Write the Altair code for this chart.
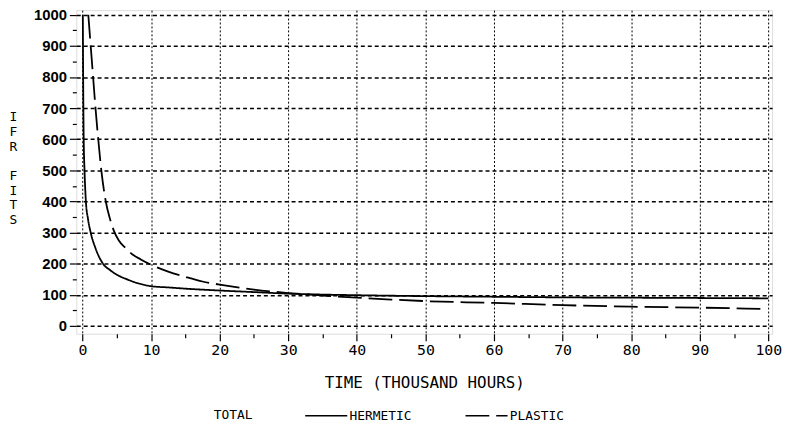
import altair as alt
import pandas as pd

# Hermetic (solid) curve
herm_x = [0.05, 0.1, 0.18, 0.3, 0.5, 0.8, 1.2, 1.9, 3.0, 4.0, 5.0, 6.5, 8.0, 10.0,
          12.5, 15.0, 20.0, 25.0, 30.0, 35.0, 40.0, 50.0, 60.0, 70.0, 80.0, 90.0, 100.0]
herm_y = [1000, 800, 600, 500, 400, 345, 300, 250, 200, 180, 165, 150, 138, 128,
          124, 120, 114, 109, 104, 101, 99, 96, 94, 92, 91, 90, 89]

# Plastic (dashed) curve
plas_x = [0.85, 1.2, 1.55, 1.9, 2.3, 2.75, 3.4, 4.0, 4.6, 5.3, 6.3, 7.3, 8.5, 10.0,
          12.5, 15.0, 17.5, 20.0, 25.0, 30.0, 35.0, 40.0, 45.0, 50.0, 60.0, 70.0,
          80.0, 90.0, 99.0]
plas_y = [1000, 900, 800, 700, 600, 500, 400, 345, 305, 275, 250, 230, 214, 197,
          175, 158, 143, 133, 117, 106, 98, 91, 85, 80, 74, 67,
          62, 59, 55]

series_names = ["HERMETIC", "PLASTIC"]
x_ticks = list(range(0, 101, 5))
y_ticks = list(range(0, 1001, 50))
y_title_lines = ["I", "F", "R", "\u200b", "F", "I", "T", "S"]

df = pd.concat([
    pd.DataFrame({"t": herm_x, "ifr": herm_y, "series": series_names[0]}),
    pd.DataFrame({"t": plas_x, "ifr": plas_y, "series": series_names[1]}),
])

mono = "DejaVu Sans Mono"
sans = "Liberation Sans"

x_axis = alt.Axis(
    values=x_ticks, format="d",
    labelExpr="datum.value % 10 === 0 ? datum.label : ''",
    labelOverlap=False,
    tickSize={"condition": {"test": "datum.value % 10 === 0", "value": 7}, "value": 4},
    gridOpacity={"condition": {"test": "datum.value % 10 === 0", "value": 1}, "value": 0},
    grid=True, gridDash=[2, 2], gridColor="black", gridWidth=1,
    domain=False, tickColor="black", tickWidth=1.2,
    labelFont=mono, labelFontSize=15, labelColor="black", labelPadding=2,
    title="TIME (THOUSAND HOURS)", titleFont=mono, titleFontSize=16,
    titleFontWeight="normal", titleColor="black", titlePadding=17,
)

y_axis = alt.Axis(
    values=y_ticks, format="d",
    labelExpr="datum.value % 100 === 0 ? datum.label : ''",
    labelOverlap=False,
    tickSize={"condition": {"test": "datum.value % 100 === 0", "value": 7}, "value": 4},
    gridOpacity={"condition": {"test": "datum.value % 100 === 0", "value": 1}, "value": 0},
    grid=True, gridDash=[4, 3], gridColor="black", gridWidth=1.5,
    domain=False, tickColor="black", tickWidth=1.2,
    labelFont=sans, labelFontSize=15, labelFontWeight="bold", labelColor="black",
    labelPadding=3,
    title=y_title_lines, titleAngle=0, titleAlign="center", titleBaseline="top",
    titleX=-64, titleY=102, titleLineHeight=14.8,
    titleFont=mono, titleFontSize=13, titleFontWeight="normal", titleColor="black",
)

legend = alt.Legend(
    title="TOTAL", orient="none", legendX=139, legendY=400, direction="horizontal",
    titleOrient="left", titleAnchor="start", titleBaseline="line-top", titleLineHeight=18,
    titleFont=mono, titleFontSize=13, titleFontWeight="normal",
    titleColor="black", titlePadding=64,
    labelFont=mono, labelFontSize=13, labelColor="black", labelOffset=14,
    symbolType="M-2.5,0H2.5", symbolSize=289, symbolStrokeWidth=1.6,
    symbolStrokeColor="black", columnPadding=51,
)

chart = alt.Chart(df).mark_line(color="black", strokeWidth=1.8, interpolate="monotone", clip=True).encode(
    x=alt.X("t:Q", scale=alt.Scale(domain=[-0.9, 100.55], nice=False, zero=False), axis=x_axis),
    y=alt.Y("ifr:Q", scale=alt.Scale(domain=[-25, 1015], nice=False, zero=False), axis=y_axis),
    strokeDash=alt.StrokeDash("series:N", scale=alt.Scale(domain=series_names, range=[[1, 0], [24, 7]]), legend=legend),
    detail="series:N",
).properties(
    width=703, height=327,
    autosize=alt.AutoSizeParams(type="none"),
    padding={"left": 69, "top": 0, "right": 11, "bottom": 89},
).configure_view(
    stroke="black", strokeWidth=1.6,
).configure(background="white")

chart.save("out.html", embed_options={"renderer": "svg", "actions": False})
